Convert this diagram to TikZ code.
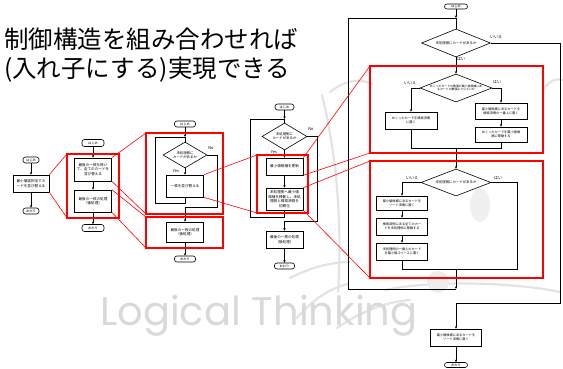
\documentclass[tikz,border=0pt]{standalone}
\usepackage{fontspec}
\setmainfont{Noto Sans CJK JP}
\newfontfamily\wmfont{Poppins}
\usetikzlibrary{shapes.geometric,arrows.meta}
\begin{document}
\begin{tikzpicture}[x=1pt,y=-1pt,
  box/.style={draw,line width=0.6pt,fill=white,inner sep=0pt,align=center,font=\fontsize{3.6}{4.6}\selectfont},
  sbox/.style={box,font=\fontsize{3.2}{4.2}\selectfont},
  term/.style={draw,line width=0.6pt,fill=white,rounded corners=2.5pt,inner sep=0pt,font=\fontsize{3.2}{3.6}\selectfont},
  dia/.style={draw,diamond,line width=0.6pt,fill=white,inner sep=0pt},
  dlab/.style={font=\fontsize{3.4}{4.2}\selectfont,align=center,inner sep=0pt},
  ln/.style={line width=0.6pt},
  arr/.style={line width=0.6pt,-{Stealth[length=2.6pt,width=2.3pt]}},
  redbox/.style={draw=red,line width=1.1pt},
  redln/.style={red,line width=0.6pt},
  lbl/.style={font=\fontsize{4}{4}\selectfont,inner sep=0pt},
  swirl/.style={gray!22,line width=2.2pt,line cap=round},
]
\useasboundingbox (0,0) rectangle (563,369);

% ---------- decorative background ----------
\draw[swirl] (322,95) .. controls (338,160) and (342,230) .. (338,292);
\draw[swirl] (290,278) .. controls (310,268) and (330,262) .. (350,262);
\draw[swirl] (297,318) .. controls (312,300) and (330,288) .. (348,284);
\draw[swirl] (337,328) .. controls (360,312) and (385,302) .. (410,300);
\draw[swirl] (330,92) .. controls (345,80) and (360,78) .. (372,84);
\draw[swirl] (543,90) .. controls (550,80) and (556,78) .. (563,80);
\draw[swirl] (385,290) .. controls (420,282) and (500,280) .. (560,292);
\fill[gray!14] (438,282) circle (11);
\fill[gray!12] (480,205) ellipse (10 and 17);
\node[anchor=base west,inner sep=0pt,text=gray!30,font=\wmfont\fontsize{40}{40}\selectfont] (wm) at (100,325) {Logical Thinking};

% ---------- title ----------
\node[anchor=base west,inner sep=0pt,font=\fontsize{24.5}{26}\selectfont] (t1) at (4,49) {制御構造を組み合わせれば};
\node[anchor=base west,inner sep=0pt,font=\fontsize{24.5}{26}\selectfont] (t2) at (4,78) {(入れ子にする)実現できる};

% ---------- diagram 1 ----------
\node[term,minimum width=16,minimum height=6] (d1s) at (31,160) {はじめ};
\node[box,minimum width=36,minimum height=17] (d1b) at (31,183.5) {最小値選択法でカ\\ードを並び替える};
\node[term,minimum width=16,minimum height=6] (d1e) at (31,211) {おわり};
\draw[arr] (d1s) -- (d1b);
\draw[arr] (d1b) -- (d1e);

% ---------- diagram 2 ----------
\node[term,minimum width=22,minimum height=7] (d2s) at (93,143) {はじめ};
\node[box,minimum width=37,minimum height=23] (d2b1) at (93,169.5) {最後の一枚を除い\\て、全てのカードを\\並び替える};
\node[box,minimum width=37,minimum height=22] (d2b2) at (93,201) {最後の一枚の処理\\（後処理）};
\node[term,minimum width=22,minimum height=7] (d2e) at (93,228) {おわり};
\draw[arr] (d2s) -- (d2b1);
\draw[arr] (d2b1) -- (d2b2);
\draw[arr] (d2b2) -- (d2e);

% ---------- diagram 3 ----------
\node[term,minimum width=21,minimum height=6] (d3s) at (185,124) {はじめ};
\coordinate (j3) at (185,137);
\node[dia,minimum width=44,minimum height=26,label={[dlab]center:{未処理側に\\カードがあるか}}] (d3d) at (185,155) {};
\node[box,minimum width=37,minimum height=22] (d3b) at (185,186) {一枚を並び替える};
\node[box,minimum width=37,minimum height=20] (d3b2) at (185,232) {最後の一枚の処理\\（後処理）};
\node[term,minimum width=21,minimum height=6] (d3e) at (185,259) {おわり};
\draw[arr] (d3s) -- (j3);
\draw[ln] (j3) -- (d3d.north);
\draw[arr] (d3d) -- (d3b);
\draw[ln] (d3b.south) -- (185,203) -- (155,203) -- (155,137) -- (j3);
\draw[arr] (d3d.east) -- (217,155) -- (217,207) -- (185,207) -- (d3b2.north);
\draw[arr] (d3b2) -- (d3e);
\node[lbl] (d3y) at (176,171) {Yes};
\node[lbl] (d3n) at (211,148) {No};

% ---------- diagram 4 ----------
\node[term,minimum width=19,minimum height=6] (d4s) at (284.5,107) {はじめ};
\coordinate (j4) at (284.5,119);
\node[dia,minimum width=45,minimum height=27,label={[dlab]center:{未処理側に\\カードがあるか}}] (d4d) at (284.5,136.5) {};
\node[box,minimum width=37,minimum height=17] (d4b1) at (284.5,166.5) {最小値候補を更新};
\node[box,minimum width=37,minimum height=22] (d4b2) at (284.5,199) {未処理側へ最小値\\候補を移動し、未処\\理側と検索済側を\\初期化};
\node[box,minimum width=37,minimum height=17] (d4b3) at (284.5,239.5) {最後の一枚の処理\\（後処理）};
\node[term,minimum width=20,minimum height=6] (d4e) at (284.5,266) {おわり};
\draw[arr] (d4s) -- (j4);
\draw[ln] (j4) -- (d4d.north);
\draw[arr] (d4d) -- (d4b1);
\draw[arr] (d4b1) -- (d4b2);
\draw[ln] (d4b2.south) -- (284.5,217) -- (250,217) -- (250,119) -- (j4);
\draw[arr] (d4d.east) -- (317,136.5) -- (317,221) -- (284.5,221) -- (d4b3.north);
\draw[arr] (d4b3) -- (d4e);
\node[lbl] (d4y) at (274,152) {Yes};
\node[lbl] (d4n) at (311,129) {No};

% ---------- diagram 5 ----------
\node[term,minimum width=23,minimum height=5] (d5s) at (456,6.5) {はじめ};
\coordinate (j5) at (456,18);
\node[dia,minimum width=69,minimum height=28,label={[dlab]center:{未処理側にカードがあるか}}] (d5d1) at (456,43) {};
\node[dia,minimum width=72,minimum height=28,label={[dlab,font=\fontsize{2.9}{3.6}\selectfont]center:{めくったカードの数値が最小値候補にあ\\るカードの数値より小さいか}}] (d5d2) at (456,88) {};
\node[sbox,minimum width=52,minimum height=17] (d5L) at (411,120.5) {めくったカードを検索済側\\に置く};
\node[sbox,minimum width=52,minimum height=16] (d5R1) at (501,111) {最小値候補にあるカードを\\検索済側の一番上に置く};
\node[sbox,minimum width=52,minimum height=15] (d5R2) at (501,134.5) {めくったカードを最小値候\\補に移動する};
\node[dia,minimum width=70,minimum height=27,label={[dlab]center:{未処理側にカードがあるか}}] (d5d3) at (456,182.5) {};
\node[sbox,minimum width=51,minimum height=14] (d5B1) at (402,203) {最小値候補にあるカードを\\ソート済側に置く};
\node[sbox,minimum width=51,minimum height=17] (d5B2) at (402,226.5) {検索済側にある全てのカー\\ドを未処理側に移動する};
\node[sbox,minimum width=51,minimum height=17] (d5B3) at (402,251.5) {未処理側の一番上のカード\\を最小値スペースに置く};
\node[sbox,minimum width=51,minimum height=17] (d5F) at (456,337.5) {最小値候補にあるカードを\\ソート済側に置く};
\node[term,minimum width=23,minimum height=5] (d5e) at (456,365) {おわり};

\draw[arr] (d5s) -- (j5);
\draw[ln] (j5) -- (d5d1.north);
\draw[arr] (d5d1) -- (d5d2);
\draw[arr] (d5d2.west) -- (411,88) -- (d5L.north);
\draw[arr] (d5d2.east) -- (501,88) -- (d5R1.north);
\draw[arr] (d5R1) -- (d5R2);
\draw[ln] (d5L.south) -- (411,148) -- (501,148) -- (d5R2.south);
\draw[arr] (456,148) -- (d5d3.north);
\draw[arr] (d5d3.west) -- (402,182.5) -- (d5B1.north);
\draw[arr] (d5B1) -- (d5B2);
\draw[arr] (d5B2) -- (d5B3);
\draw[ln] (d5B3.south) -- (402,269) -- (517,269) -- (517,182.5) -- (d5d3.east);
\coordinate (k5) at (456,289);
\draw[arr] (456,269) -- (k5);
\draw[ln] (k5) -- (348,289) -- (348,18) -- (j5);
\draw[arr] (d5d1.east) -- (560,43) -- (560,303) -- (456,303) -- (d5F.north);
\draw[arr] (d5F) -- (d5e);
\node[lbl] (d5n1) at (496,37.5) {いいえ};
\node[lbl] (d5y1) at (461,59) {はい};
\node[lbl] (d5n2) at (410,83) {いいえ};
\node[lbl] (d5y2) at (497,82) {はい};
\node[lbl] (d5n3) at (412,178) {いいえ};
\node[lbl] (d5y3) at (498,178) {はい};

% ---------- red zoom frames ----------
\draw[redbox] (67,154) rectangle (119,218);
\draw[redln] (d1b.north east) -- (67,154);
\draw[redln] (d1b.south east) -- (67,218);

\draw[redbox] (146,133) rectangle (223,214);
\draw[redbox] (146,217) rectangle (223,248);
\draw[redln] (d2b1.north east) -- (146,133);
\draw[redln] (d2b1.south east) -- (146,214);
\draw[redln] (d2b2.north east) -- (146,217);
\draw[redln] (d2b2.south east) -- (146,248);

\draw[redbox] (257,155) rectangle (308,213);
\draw[redln] (d3b.north east) -- (257,155);
\draw[redln] (d3b.south east) -- (257,213);

\draw[redbox] (370,66) rectangle (543,153);
\draw[redbox] (370,161) rectangle (543,278);
\draw[redln] (d4b1.north east) -- (370,66);
\draw[redln] (d4b1.south east) -- (370,153);
\draw[redln] (d4b2.north east) -- (370,161);
\draw[redln] (d4b2.south east) -- (370,278);
\end{tikzpicture}
\end{document}
